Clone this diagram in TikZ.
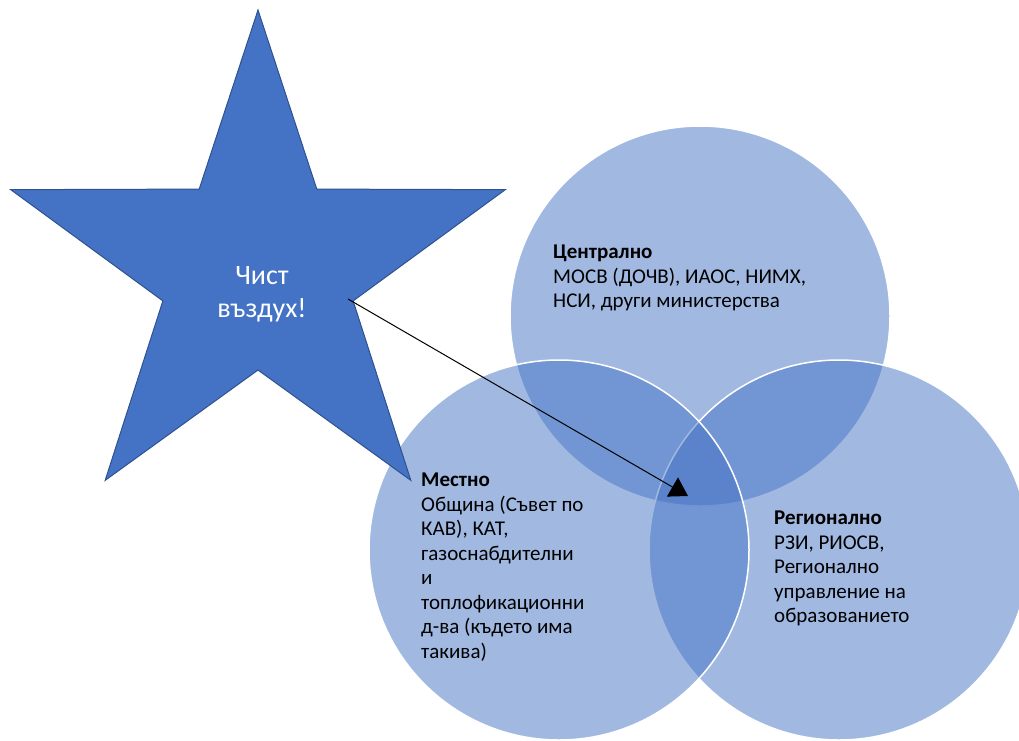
\documentclass[tikz,border=0pt]{standalone}
\usepackage{fontspec}
\setmainfont{Carlito}
\usetikzlibrary{shapes.geometric,arrows.meta}
\definecolor{accent}{HTML}{4472C4}
\definecolor{starline}{HTML}{2F528F}
\begin{document}
\begin{tikzpicture}[x=1pt, y=-1pt,
  ring/.style = {circle, draw=white, line width=1.5pt, fill=accent, fill opacity=0.5, minimum size=380pt, inner sep=0pt},
  info/.style = {anchor=north west, align=left, inner sep=0pt, font=\fontsize{21}{24.5}\selectfont},
  goalstar/.style = {star, star points=5, star point ratio=2.6, minimum size=520pt, inner sep=0pt, fill=accent, draw=starline, line width=1pt}]
\useasboundingbox (0,0) rectangle (1019,740);

\node[ring] (1) at (700,316) {};
\node[ring] (2) at (839,550) {};
\node[ring] (3) at (559,550) {};

\node[goalstar] (0) at (258,270) {};
\node[align=center, text=white, font=\fontsize{28}{33}\selectfont] (goal) at (262,294) {Чист\\въздух!};

\node[info] (4) at (553,245) {\textbf{Централно}\\МОСВ (ДОЧВ), ИАОС, НИМХ,\\НСИ, други министерства};
\node[info] (5) at (774,511) {\textbf{Регионално}\\РЗИ, РИОСВ,\\Регионално\\управление на\\образованието};
\node[info] (6) at (421,473) {\textbf{Местно}\\Община (Съвет по\\КАВ), КАТ,\\газоснабдителни\\и\\топлофикационни\\д-ва (където има\\такива)};

\coordinate (a) at (348,299);
\coordinate (b) at (688,496);
\draw[-{Triangle[length=18pt,width=22pt]}, line width=1pt] (a) -- (b);

\end{tikzpicture}
\end{document}
